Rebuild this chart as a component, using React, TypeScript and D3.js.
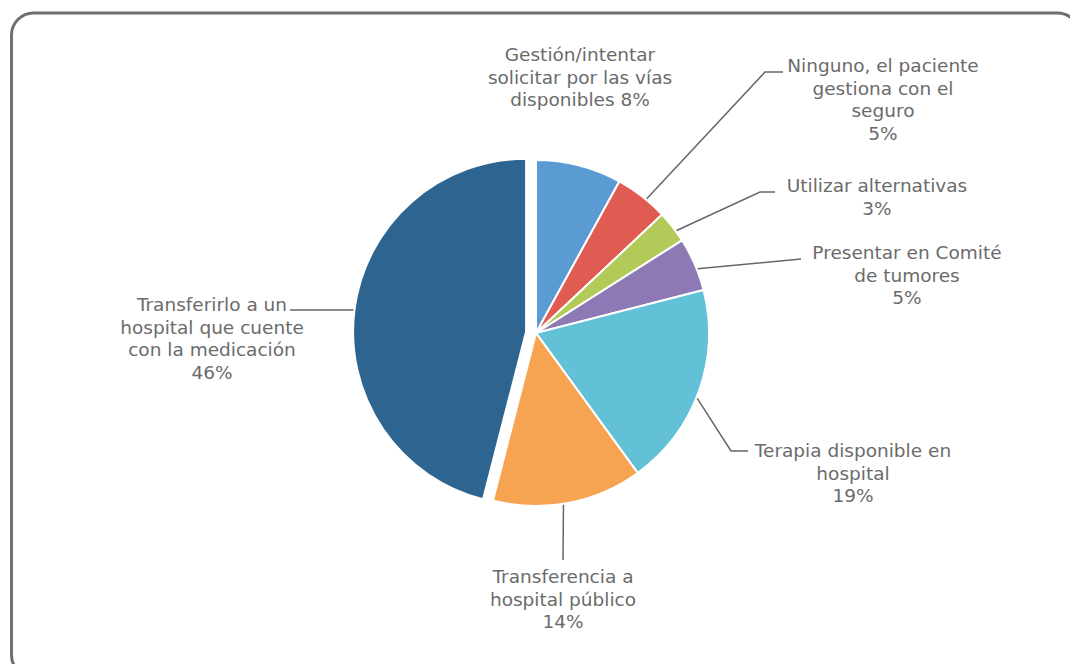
import React from "react";
import * as d3 from "d3";

const categorias = [
  "Gestión/intentar solicitar por las vías disponibles",
  "Ninguno, el paciente gestiona con el seguro",
  "Utilizar alternativas",
  "Presentar en Comité de tumores",
  "Terapia disponible en hospital",
  "Transferencia a hospital público",
  "Transferirlo a un hospital que cuente con la medicación",
];
const valores = [8, 5, 3, 5, 19, 14, 46];
// texto de cada etiqueta, línea por línea
const etiquetas = [
  ["Gestión/intentar", "solicitar por las vías", "disponibles 8%"],
  ["Ninguno, el paciente", "gestiona con el", "seguro", "5%"],
  ["Utilizar alternativas", "3%"],
  ["Presentar en Comité", "de tumores", "5%"],
  ["Terapia disponible en", "hospital", "19%"],
  ["Transferencia a", "hospital público", "14%"],
  ["Transferirlo a un", "hospital que cuente", "con la medicación", "46%"],
];
const couleur = ["#5b9bd3", "#e05b51", "#b2cb58", "#8d7ab4", "#62c1d6", "#f6a452", "#2e6590"];

// posiciones de las etiquetas (centro de texto, primera línea) y de la guía
const layout = [
  { tx: 580, ty: 61, da: 0, guide: null },
  { tx: 883, ty: 72, da: 0.03, guide: [[765, 72], [783, 72]] },
  { tx: 877, ty: 192, da: 0.03, guide: [[760, 192], [775, 192]] },
  { tx: 907, ty: 259, da: 0.03, guide: [[801, 259]] },
  { tx: 853, ty: 457, da: 0.04, guide: [[731, 451], [748, 451]] },
  { tx: 563, ty: 583, da: 0.03, guide: [[563, 560]] },
  { tx: 212, ty: 311, da: 0, guide: [[290, 310]] },
];
const explode = [0, 0, 0, 0, 0, 0, 10];

const W = 1070;
const H = 664;
const cx = 536;
const cy = 333;
const R = 173;

const App = () => {
  const createPie = d3.pie<number>().value((d) => d).sort(null);
  const createArc = d3.arc<d3.PieArcDatum<number>>().innerRadius(0).outerRadius(R);
  const arcs = createPie(valores);
  const lineH = 22.5;

  return (
    <div style={{ position: "fixed", left: 0, top: 0 }}>
      <svg width={W} height={H} style={{ display: "block", background: "#fff" }}>
        <rect x={11.5} y={13} width={1068} height={664} rx={22} fill="#fff" stroke="#6f6f6f" strokeWidth={3} />
        <g transform={`translate(${cx},${cy})`}>
          {arcs.map((a, i) => {
            const mid = (a.startAngle + a.endAngle) / 2;
            const dx = Math.sin(mid) * explode[i];
            const dy = -Math.cos(mid) * explode[i];
            return (
              <path
                key={categorias[i]}
                d={createArc(a) || ""}
                transform={`translate(${dx},${dy})`}
                fill={couleur[i]}
                stroke="#fff"
                strokeWidth={2}
              />
            );
          })}
        </g>
        {arcs.map((a, i) => {
          const l = layout[i];
          const mid0 = (a.startAngle + a.endAngle) / 2;
          const ex = Math.sin(mid0) * explode[i];
          const ey = -Math.cos(mid0) * explode[i];
          const mid = mid0 + l.da;
          const start: [number, number] = [
            cx + ex + Math.sin(mid) * (R + 1),
            cy + ey - Math.cos(mid) * (R + 1),
          ];
          const pts = l.guide ? [start, ...(l.guide as [number, number][])] : null;
          return (
            <g key={"lbl" + i}>
              {pts && (
                <path
                  d={d3.line()(pts) || ""}
                  fill="none"
                  stroke="#666"
                  strokeWidth={1.5}
                />
              )}
              <text
                x={l.tx}
                y={l.ty}
                textAnchor="middle"
                fontFamily="'DejaVu Sans', Verdana, sans-serif"
                fontSize={18.5}
                fill="#6b6b6b"
              >
                {etiquetas[i].map((t, j) => (
                  <tspan key={j} x={l.tx} y={l.ty + j * lineH}>
                    {t}
                  </tspan>
                ))}
              </text>
            </g>
          );
        })}
      </svg>
    </div>
  );
};

export default App;
